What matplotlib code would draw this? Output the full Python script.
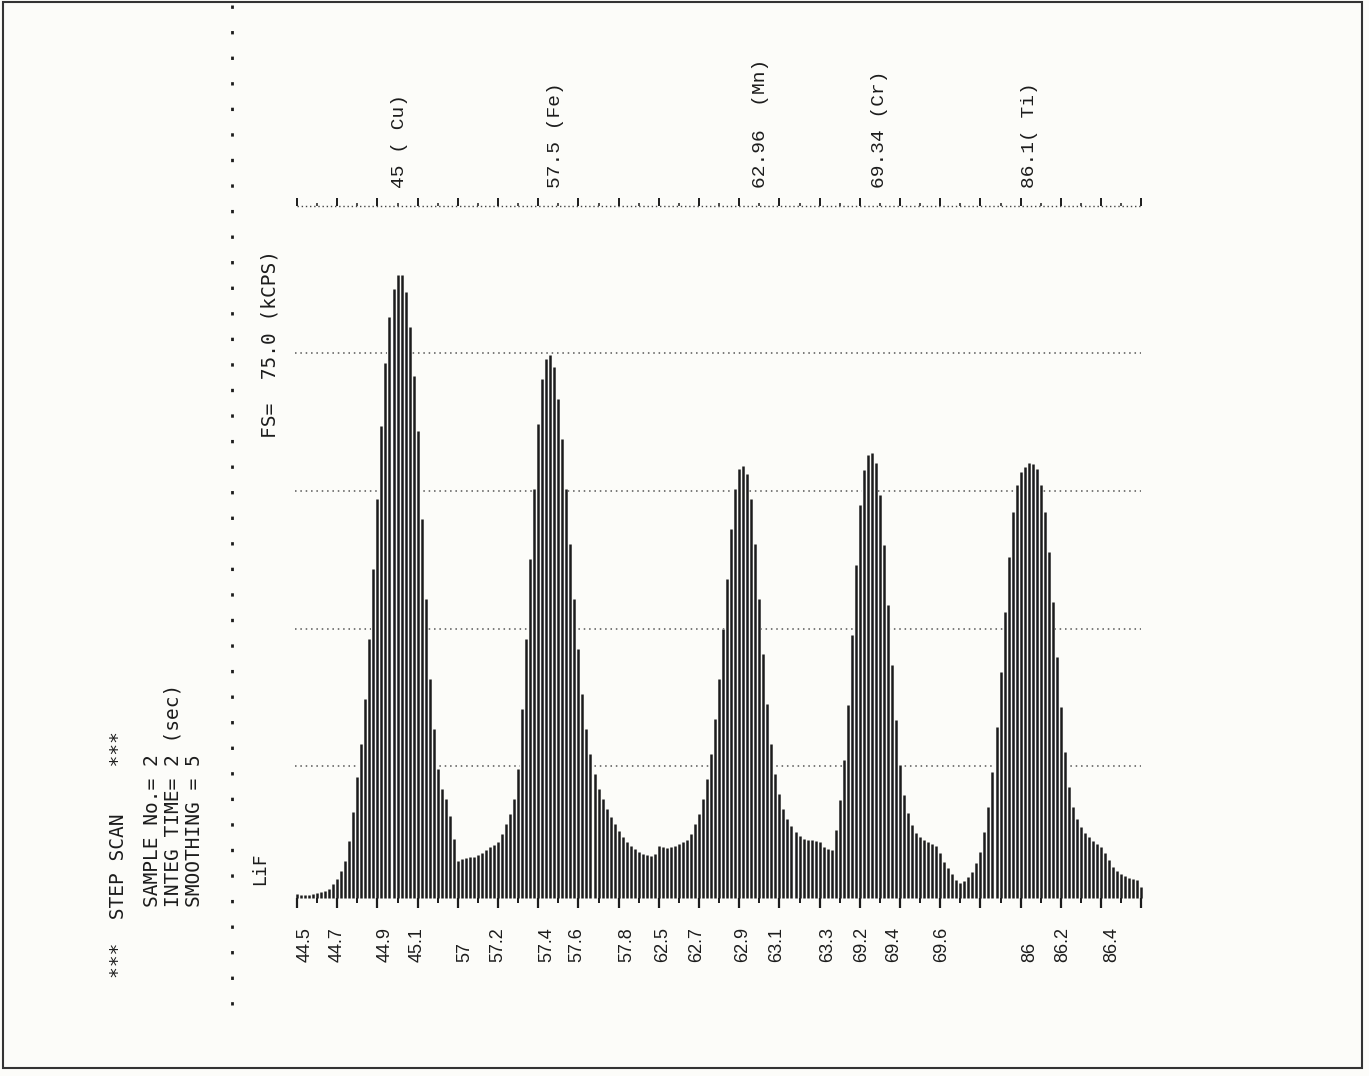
import numpy as np
import matplotlib.pyplot as plt
from matplotlib.patches import Rectangle
from matplotlib.lines import Line2D

# step scan intensities in kCPS, one value per step
cu_counts = [1.1, 1.0, 1.0, 1.0, 1.1, 1.2, 1.3, 1.4, 1.6, 2.2,
             2.7, 3.6, 4.7, 6.9, 10.0, 13.8, 17.4, 22.3, 28.9, 36.5,
             44.1, 52.1, 58.9, 63.9, 67.0, 68.5, 68.5, 66.7, 62.9, 57.5,
             51.5, 41.9, 33.2, 24.5, 19.1, 14.7, 12.5, 11.4, 9.6, 7.1]
fe_counts = [4.7, 4.9, 5.0, 5.1, 5.1, 5.3, 5.6, 5.9, 6.2, 6.4,
             6.8, 7.6, 8.7, 9.8, 11.4, 14.7, 21.2, 28.9, 37.6, 45.2,
             52.3, 57.2, 59.4, 59.8, 58.5, 55.0, 50.7, 45.2, 39.2, 33.2,
             27.8, 22.9, 19.1, 16.3, 14.2, 12.5, 11.4, 10.3, 9.5, 8.7,
             8.0, 7.3, 6.8, 6.3, 6.0, 5.7, 5.4, 5.3, 5.2, 5.4]
mn_counts = [6.3, 6.2, 6.1, 6.2, 6.3, 6.5, 6.8, 7.0, 7.6, 8.7,
             9.8, 11.4, 13.6, 16.3, 20.2, 24.5, 30.0, 35.4, 40.8, 45.2,
             47.4, 47.7, 46.8, 44.1, 39.2, 33.2, 27.2, 21.8, 17.4, 14.2,
             12.0, 10.3, 9.3, 8.5, 7.8, 7.4, 7.1, 7.0, 7.0, 6.9,
             6.8, 6.2, 6.0]
cr_counts = [5.9, 8.1, 11.3, 15.7, 21.7, 29.3, 36.9, 43.5, 47.3, 48.9,
             49.1, 48.0, 44.6, 39.1, 32.6, 26.0, 20.0, 15.1, 11.9, 9.9,
             8.6, 7.7, 7.3, 7.0, 6.8, 6.5, 6.3, 5.6, 4.6, 3.9,
             3.3, 2.6, 2.3]
ti_counts = [2.5, 2.9, 3.5, 4.5, 5.7, 7.8, 10.6, 14.4, 19.3, 25.3,
             31.8, 37.8, 42.7, 45.6, 47.1, 47.6, 48.0, 47.9, 47.4, 45.6,
             42.7, 38.3, 32.9, 26.9, 21.5, 16.6, 12.7, 10.6, 9.3, 8.4,
             7.7, 7.3, 6.9, 6.5, 6.2, 5.6, 4.8, 4.0, 3.6, 3.3,
             3.1, 2.8, 2.7, 2.6, 1.8]

# 2-theta labels printed under the scan, at the step where they sit
tick_labels = ["44.5", "44.7", "44.9", "45.1", "57", "57.2", "57.4", "57.6",
               "57.8", "62.5", "62.7", "62.9", "63.1", "63.3", "69.2", "69.4",
               "69.6", "86", "86.2", "86.4"]
tick_steps = [2.0, 10.0, 21.9, 29.9, 41.8, 50.0, 62.2, 69.7,
              82.1, 91.0, 99.5, 110.9, 119.4, 132.1, 140.5, 148.3,
              160.4, 182.3, 190.5, 202.7]

peak_labels = ["45 ( Cu)", "57.5 (Fe)", "62.96  (Mn)", "69.34 (Cr)", "86.1( Ti)"]
peak_steps = [25.6, 64.2, 115.2, 145.0, 182.3]

grid_levels = [15, 30, 45, 60]
full_scale = 75.0

header_lines = ["***  STEP SCAN    ***", "SAMPLE No.= 2", "INTEG TIME= 2 (sec)",
                "SMOOTHING = 5"]

W, H = 1369, 1076
paper = "#fcfcf9"
ink = "#1c1c1c"


def fx(px):
    return px / W


def fy(py):
    return 1 - py / H


counts = np.array(cu_counts + fe_counts + mn_counts + cr_counts + ti_counts)
steps = np.arange(len(counts))

fig = plt.figure(figsize=(W / 100, H / 100), dpi=100, facecolor=paper)
ax = fig.add_axes([0.2155, 0.1428, 0.6196, 0.6825])
ax.set_axis_off()
ax.set_xlim(-0.5, len(counts) - 0.5)
ax.set_ylim(-2, 78)

# dotted level lines, hidden behind the bars like on the plotter
for g in grid_levels:
    ax.plot([-0.5, steps[-1]], [g, g], ls=(0, (1, 2.5)), lw=1.1, color="#555555", zorder=1)
ax.bar(steps, counts, width=1.0, color=paper, zorder=2)
ax.vlines(steps, 0.7, counts, color=ink, lw=1.8, zorder=3)

# step ticks below the baseline
ax.vlines(steps[::10], -0.4, 0.7, color=ink, lw=1.6, zorder=3)
ax.vlines(steps[5::10], 0.1, 0.7, color=ink, lw=1.4, zorder=3)

# full scale line on top
top = full_scale + 1
ax.plot([0, steps[-1]], [top, top], ls=(0, (1, 2)), lw=1.0, color="#444444")
ax.vlines(steps[::10], top, top + 0.9, color=ink, lw=1.4)
ax.vlines(steps[5::10], top, top + 0.4, color=ink, lw=1.1)

for lab, s in zip(tick_labels, tick_steps):
    ax.text(s, -6.3, lab, rotation=90, ha="center", va="bottom", fontsize=13,
            family="Liberation Sans", color=ink)

for lab, s in zip(peak_labels, peak_steps):
    ax.text(s, 78.0, lab, rotation=90, ha="center", va="bottom", fontsize=14,
            family="Liberation Mono", color=ink)

# header block on the left, printed sideways
head_x = [118, 152, 173, 195]
head_y = [978, 907, 907, 907]
for txt, x, y in zip(header_lines, head_x, head_y):
    fig.text(fx(x), fy(y), txt, rotation=90, ha="center", va="bottom", fontsize=14,
             family="DejaVu Sans Mono", color=ink)

fig.text(fx(270), fy(438), "FS=  %.1f (kCPS)" % full_scale, rotation=90, ha="center",
         va="bottom", fontsize=14, family="DejaVu Sans Mono", color=ink)
fig.text(fx(260), fy(885), "LiF", rotation=90, ha="center", va="bottom", fontsize=13,
         family="DejaVu Sans Mono", color=ink)

# dotted separator and page frame
fig.add_artist(Line2D([fx(232), fx(232)], [fy(5), fy(1010)], ls=(0, (1.2, 8)), lw=2.0,
                      color=ink))
fig.add_artist(Rectangle((fx(3), fy(1068)), fx(1362) - fx(3), fy(2) - fy(1068), fill=False,
                         lw=1.5, edgecolor="#333333"))

fig.savefig("out.png", dpi=100, facecolor=paper)
